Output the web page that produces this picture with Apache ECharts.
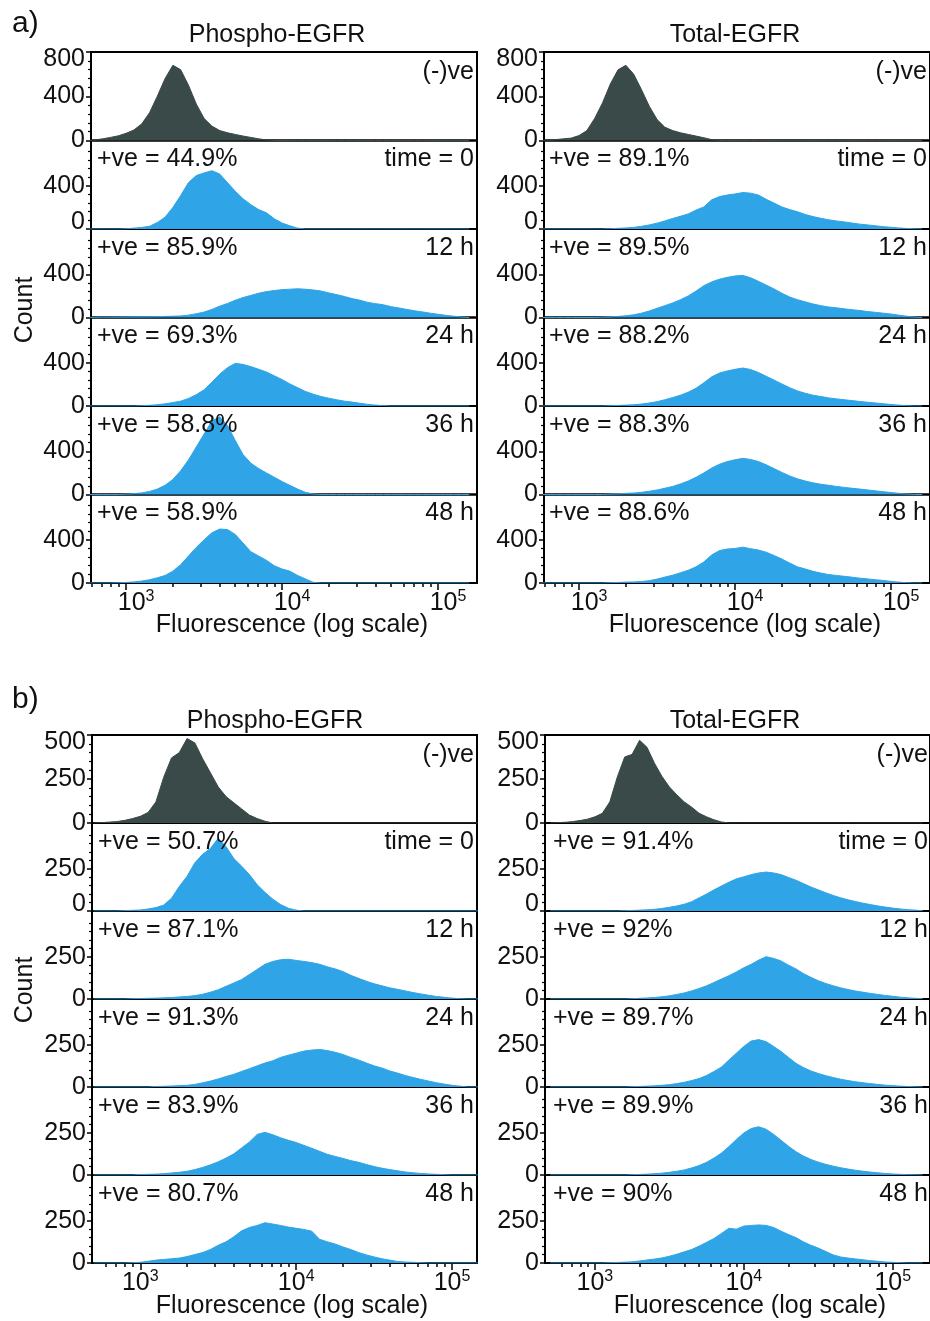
<!DOCTYPE html>
<html>
<head>
<meta charset="utf-8">
<title>EGFR flow cytometry histograms</title>
<script src="https://cdn.jsdelivr.net/npm/echarts@6/dist/echarts.min.js"></script>
<style>
  html, body { margin: 0; padding: 0; background: #ffffff; }
  #chart { width: 930px; height: 1321px; }
</style>
</head>
<body>
<div id="chart"></div>
<script>
// Histogram bin positions, log10(fluorescence)
const BIN_LOG10 = [2.70, 2.75, 2.80, 2.85, 2.90, 2.95,
  3.00, 3.05, 3.10, 3.15, 3.20, 3.25, 3.30, 3.35, 3.40, 3.45, 3.50, 3.55, 3.60, 3.65, 3.70, 3.75, 3.80, 3.85, 3.90, 3.95,
  4.00, 4.05, 4.10, 4.15, 4.20, 4.25, 4.30, 4.35, 4.40, 4.45, 4.50, 4.55, 4.60, 4.65, 4.70, 4.75, 4.80, 4.85, 4.90, 4.95,
  5.00, 5.05, 5.10, 5.15, 5.20];

// Panel row captions
const TIME_LABELS = ['(-)ve', 'time = 0', '12 h', '24 h', '36 h', '48 h'];

// ---- a) Phospho-EGFR counts per bin ----
const A_PHOSPHO_NEG = [0,0,5,15,28,42,65,95,150,250, 400,560,680,640,500,330,200,130,90,70, 55,40,28,15,5,0,0,0,0,0, 0,0,0,0,0,0,0,0,0,0, 0,0,0,0,0,0,0,0,0,0,0];
const A_PHOSPHO_T0  = [0,0,0,0,0,0,2,8,15,25, 60,110,200,310,430,495,520,540,510,430, 350,280,225,180,150,95,55,30,8,0, 0,0,0,0,0,0,0,0,0,0, 0,0,0,0,0,0,0,0,0,0,0];
const A_PHOSPHO_12H = [0,0,2,3,3,4,5,6,6,7, 8,10,12,14,22,35,50,75,105,130, 160,185,205,225,240,250,258,262,266,262, 255,245,228,212,195,175,160,140,128,118, 100,88,75,62,52,40,30,20,12,5,0];
const A_PHOSPHO_24H = [0,0,0,0,0,0,0,0,3,6, 12,20,32,45,70,105,150,220,295,355, 395,385,365,340,315,280,245,205,170,135, 110,88,72,58,45,36,25,15,8,3, 0,0,0,0,0,0,0,0,0,0,0];
const A_PHOSPHO_36H = [0,0,0,0,0,0,3,8,15,28, 50,85,140,220,320,440,560,680,720,640, 500,370,290,240,200,160,120,85,50,20, 5,0,0,0,0,0,0,0,0,0, 0,0,0,0,0,0,0,0,0,0,0];
const A_PHOSPHO_48H = [0,0,0,0,0,2,5,10,18,30, 48,70,110,170,250,330,400,465,500,495, 450,370,290,250,210,160,130,110,70,38, 6,0,0,0,0,0,0,0,0,0, 0,0,0,0,0,0,0,0,0,0,0];
const A_PHOSPHO_POS = ['44.9%', '85.9%', '69.3%', '58.8%', '58.9%'];

// ---- a) Total-EGFR counts per bin ----
const A_TOTAL_NEG = [0,0,3,8,15,22,45,90,200,340, 510,640,680,600,460,310,190,120,90,70, 55,40,25,8,0,0,0,0,0,0, 0,0,0,0,0,0,0,0,0,0, 0,0,0,0,0,0,0,0,0,0,0];
const A_TOTAL_T0  = [0,0,0,0,0,0,0,0,0,0, 3,6,10,15,25,38,54,75,98,118, 140,175,205,270,300,315,325,338,332,315, 275,240,205,180,160,135,115,99,85,75, 66,55,45,38,30,22,16,10,5,2,0];
const A_TOTAL_12H = [0,0,0,0,0,0,0,0,0,3, 6,10,16,25,40,60,85,110,135,165, 200,245,295,330,355,372,385,390,368,335, 300,265,225,190,165,145,125,110,98,90, 80,72,65,55,48,40,32,22,12,4,0];
const A_TOTAL_24H = [0,0,0,0,0,0,0,0,0,0, 3,5,8,12,18,28,40,58,78,100, 128,165,215,270,305,325,340,352,338,310, 275,240,205,170,140,118,100,88,75,66, 58,50,42,35,28,21,14,8,3,0,0];
const A_TOTAL_36H = [0,0,0,0,0,0,0,0,0,0, 4,7,10,14,20,30,42,58,75,98, 125,160,200,245,280,305,322,335,325,305, 275,240,205,172,145,125,108,95,85,75, 66,58,50,42,34,26,18,11,5,0,0];
const A_TOTAL_48H = [0,0,0,0,0,0,0,0,0,0, 3,5,8,10,14,22,36,55,72,95, 118,150,195,260,300,315,320,332,318,305, 285,255,222,185,150,130,108,92,78,70, 62,54,45,38,30,24,15,8,3,0,0];
const A_TOTAL_POS = ['89.1%', '89.5%', '88.2%', '88.3%', '88.6%'];

// ---- b) Phospho-EGFR counts per bin ----
const B_PHOSPHO_NEG = [0,2,5,8,15,25,38,60,120,260, 370,400,480,455,365,285,205,150,115,80, 45,25,10,0,0,0,0,0,0,0, 0,0,0,0,0,0,0,0,0,0, 0,0,0,0,0,0,0,0,0,0,0];
const B_PHOSPHO_T0  = [0,0,0,0,2,4,6,12,20,35, 75,145,205,285,335,370,430,380,310,265, 215,155,110,70,38,16,5,0,0,0, 0,0,0,0,0,0,0,0,0,0, 0,0,0,0,0,0,0,0,0,0,0];
const B_PHOSPHO_12H = [0,0,0,0,0,2,3,4,5,7, 9,12,15,20,28,40,55,75,95,115, 145,175,205,222,232,235,228,222,215,205, 190,178,162,140,122,105,90,78,66,57, 48,38,30,22,15,10,5,2,0,0,0];
const B_PHOSPHO_24H = [0,0,0,0,0,0,0,0,3,4, 6,8,10,15,25,35,48,62,75,92, 108,125,142,155,175,188,200,212,218,222, 215,205,192,175,160,142,125,112,95,82, 68,56,45,35,25,17,10,5,0,0,0];
const B_PHOSPHO_36H = [0,0,0,0,0,0,3,4,5,8, 12,16,22,32,45,60,78,100,125,160, 195,240,252,238,220,205,192,175,158,140, 122,110,98,85,75,62,50,40,32,25, 18,13,9,6,4,2,0,0,0,0,0];
const B_PHOSPHO_48H = [0,0,0,0,0,2,4,10,17,21, 25,29,38,50,62,80,105,125,155,190, 210,222,238,230,222,212,205,198,188,140, 125,112,95,80,62,48,36,25,17,9, 6,4,2,0,0,0,0,0,0,0,0];
const B_PHOSPHO_POS = ['50.7%', '87.1%', '91.3%', '83.9%', '80.7%'];

// ---- b) Total-EGFR counts per bin ----
const B_TOTAL_NEG = [0,2,4,8,14,22,35,55,120,260, 375,390,470,430,340,265,205,160,120,90, 55,35,18,6,0,0,0,0,0,0, 0,0,0,0,0,0,0,0,0,0, 0,0,0,0,0,0,0,0,0,0,0];
const B_TOTAL_T0  = [0,0,0,0,0,0,0,0,0,0, 2,3,5,7,10,15,22,30,40,55, 78,100,125,148,170,190,202,215,225,230, 225,215,198,182,162,142,125,108,92,78, 66,56,46,38,30,23,17,12,8,5,2];
const B_TOTAL_12H = [0,0,0,0,0,0,0,0,0,0, 0,2,4,6,9,13,19,27,36,48, 62,78,98,118,138,160,185,205,230,250, 240,225,200,178,150,128,108,92,78,66, 56,47,40,33,27,21,16,11,7,4,2];
const B_TOTAL_24H = [0,0,0,0,0,0,0,0,0,0, 0,2,3,5,7,10,14,20,28,38, 50,68,92,118,160,200,240,272,280,268, 240,210,175,140,115,95,80,67,56,46, 38,31,25,20,15,11,8,5,3,1,0];
const B_TOTAL_36H = [0,0,0,0,0,0,0,0,0,0, 0,2,3,5,8,11,16,22,30,42, 56,75,100,130,168,210,248,275,285,270, 240,205,170,138,112,92,76,63,52,43, 35,28,22,17,13,9,6,4,2,1,0];
const B_TOTAL_48H = [0,0,0,0,0,0,0,0,2,3, 5,7,12,18,23,30,40,52,66,80, 100,122,145,175,205,200,218,222,225,222, 210,188,168,150,125,105,88,68,48,36, 29,24,19,14,10,6,4,2,0,0,0];
const B_TOTAL_POS = ['91.4%', '92%', '89.7%', '89.9%', '90%'];

// Axis tick values
const X_MAJOR_DECADES = [3, 4, 5];
const X_MINOR_VALUES = [600, 700, 800, 900, 2000, 3000, 4000, 5000, 6000, 7000, 8000, 9000,
  20000, 30000, 40000, 50000, 60000, 70000, 80000, 90000, 200000];

const FONT = '"Liberation Sans", Arial, Helvetica, sans-serif';
const TEXT = '#111111';
const DARK = '#3a4a48';
const BLUE = '#2fa4e7';

const SECTIONS = [
  {
    letter: 'a)', letterY: 24, titleY: 35, top: 52, panelH: 88.5,
    yMaxFirst: 800, yMax: 820, yStep: 400, yMinor: [80, 160, 240, 320, 480, 560, 640, 720],
    countY: 310, nameY: 625, labelShift: 20,
    cols: [
      { title: 'Phospho-EGFR', titleX: 277, left: 91, width: 386, xMin: 2.775, xMax: 5.25, nameX: 292, labelL: 97, labelR: 474,
        hist: [A_PHOSPHO_NEG, A_PHOSPHO_T0, A_PHOSPHO_12H, A_PHOSPHO_24H, A_PHOSPHO_36H, A_PHOSPHO_48H], pos: A_PHOSPHO_POS },
      { title: 'Total-EGFR', titleX: 735, left: 544, width: 394, xMin: 2.775, xMax: 5.25, nameX: 745, labelL: 549, labelR: 927,
        hist: [A_TOTAL_NEG, A_TOTAL_T0, A_TOTAL_12H, A_TOTAL_24H, A_TOTAL_36H, A_TOTAL_48H], pos: A_TOTAL_POS }
    ]
  },
  {
    letter: 'b)', letterY: 700, titleY: 721, top: 735, panelH: 88,
    yMaxFirst: 500, yMax: 520, yStep: 250, yMinor: [50, 100, 150, 200, 300, 350, 400, 450],
    countY: 990, nameY: 1306, labelShift: 0,
    cols: [
      { title: 'Phospho-EGFR', titleX: 275, left: 92, width: 385, xMin: 2.69, xMax: 5.16, nameX: 292, labelL: 98, labelR: 474,
        hist: [B_PHOSPHO_NEG, B_PHOSPHO_T0, B_PHOSPHO_12H, B_PHOSPHO_24H, B_PHOSPHO_36H, B_PHOSPHO_48H], pos: B_PHOSPHO_POS },
      { title: 'Total-EGFR', titleX: 735, left: 545, width: 401, xMin: 2.665, xMax: 5.25, nameX: 750, labelL: 553, labelR: 928,
        hist: [B_TOTAL_NEG, B_TOTAL_T0, B_TOTAL_12H, B_TOTAL_24H, B_TOTAL_36H, B_TOTAL_48H], pos: B_TOTAL_POS }
    ]
  }
];

function text(x, y, str, size, align, extra) {
  return Object.assign({
    type: 'text', x: x, y: y, silent: true, z: 100,
    style: {
      text: str, fill: TEXT, fontSize: size, fontFamily: FONT,
      align: align, verticalAlign: 'middle', textAlign: align, textVerticalAlign: 'middle'
    }
  }, extra || {});
}

const grids = [], xAxes = [], yAxes = [], series = [], graphics = [];
const tickLine = { color: '#000', width: 1.5 };
const xMinorLog = X_MINOR_VALUES.map(v => Math.log10(v));

SECTIONS.forEach(sec => {
  graphics.push(text(12, sec.letterY, sec.letter, 30, 'left'));
  graphics.push(text(25, sec.countY, 'Count', 25, 'center', { rotation: Math.PI / 2 }));

  sec.cols.forEach(col => {
    graphics.push(text(col.titleX, sec.titleY, col.title, 25, 'center'));
    graphics.push(text(col.nameX, sec.nameY, 'Fluorescence (log scale)', 25, 'center'));

    col.hist.forEach((counts, p) => {
      const gi = grids.length;
      const top = sec.top + p * sec.panelH;
      const last = p === col.hist.length - 1;
      grids.push({
        left: col.left, top: top, width: col.width, height: sec.panelH,
        show: true, borderColor: '#000', borderWidth: 2, backgroundColor: 'transparent', containLabel: false
      });

      const xi = xAxes.length;
      xAxes.push({
        gridIndex: gi, type: 'value', min: col.xMin, max: col.xMax, position: 'bottom', show: last,
        axisLine: { show: false }, splitLine: { show: false },
        axisTick: { show: true, inside: false, length: 7, lineStyle: tickLine, customValues: X_MAJOR_DECADES },
        axisLabel: {
          show: true, customValues: X_MAJOR_DECADES, margin: 6, color: TEXT, fontSize: 25, fontFamily: FONT,
          formatter: v => '{sp|}10{sup|' + Math.round(v) + '}',
          rich: {
            sp: { width: sec.labelShift },
            sup: { fontSize: 16, fontFamily: FONT, color: TEXT, padding: [0, 0, 12, 0] }
          }
        }
      });
      if (last) {
        xAxes.push({
          gridIndex: gi, type: 'value', min: col.xMin, max: col.xMax, position: 'bottom',
          axisLine: { show: false }, splitLine: { show: false }, axisLabel: { show: false },
          axisTick: { show: true, inside: false, length: 4, lineStyle: tickLine, customValues: xMinorLog }
        });
      }

      const yi = yAxes.length;
      const yMax = p === 0 ? sec.yMaxFirst : sec.yMax;
      const majors = p === 0 ? [0, sec.yStep, 2 * sec.yStep] : [0, sec.yStep];
      yAxes.push({
        gridIndex: gi, type: 'value', min: 0, max: yMax, interval: sec.yStep,
        axisLine: { show: false }, splitLine: { show: false },
        axisTick: { show: true, inside: false, length: 5, lineStyle: tickLine, customValues: majors },
        axisLabel: {
          customValues: majors, margin: 6, color: TEXT, fontSize: 25, fontFamily: FONT,
          // the top label of the first panel sits just inside the frame; the zero of the
          // second panel sits just above the divider
          formatter: v => {
            if (p === 0 && v === 2 * sec.yStep) return '{low|' + v + '}';
            if (p === 1 && v === 0) return '{high|' + v + '}';
            return String(v);
          },
          rich: {
            low: { fontSize: 25, fontFamily: FONT, color: TEXT, padding: [14, 0, 0, 0] },
            high: { fontSize: 25, fontFamily: FONT, color: TEXT, padding: [0, 0, 14, 0] }
          }
        }
      });
      yAxes.push({
        gridIndex: gi, type: 'value', min: 0, max: yMax, position: 'left',
        axisLine: { show: false }, splitLine: { show: false }, axisLabel: { show: false },
        axisTick: { show: true, inside: false, length: 3, lineStyle: { color: '#000', width: 1.2 }, customValues: sec.yMinor }
      });

      const color = p === 0 ? DARK : BLUE;
      series.push({
        type: 'line', xAxisIndex: xi, yAxisIndex: yi,
        data: counts.map((c, i) => [BIN_LOG10[i], c]),
        symbol: 'none', showSymbol: false, clip: true, silent: true,
        lineStyle: { width: 1, color: color },
        areaStyle: { color: color, opacity: 1 },
        z: 1
      });

      const ly = top + 19;
      if (p === 0) {
        graphics.push(text(col.labelR, top + 20, TIME_LABELS[p], 25, 'right'));
      } else {
        graphics.push(text(col.labelL, ly, '+ve = ' + col.pos[p - 1], 25, 'left'));
        graphics.push(text(col.labelR, ly, TIME_LABELS[p], 25, 'right'));
      }
    });
  });
});

const chart = echarts.init(document.getElementById('chart'), null, { renderer: 'canvas' });
chart.setOption({
  animation: false,
  backgroundColor: '#ffffff',
  grid: grids,
  xAxis: xAxes,
  yAxis: yAxes,
  series: series,
  graphic: { elements: graphics }
});
</script>
</body>
</html>
